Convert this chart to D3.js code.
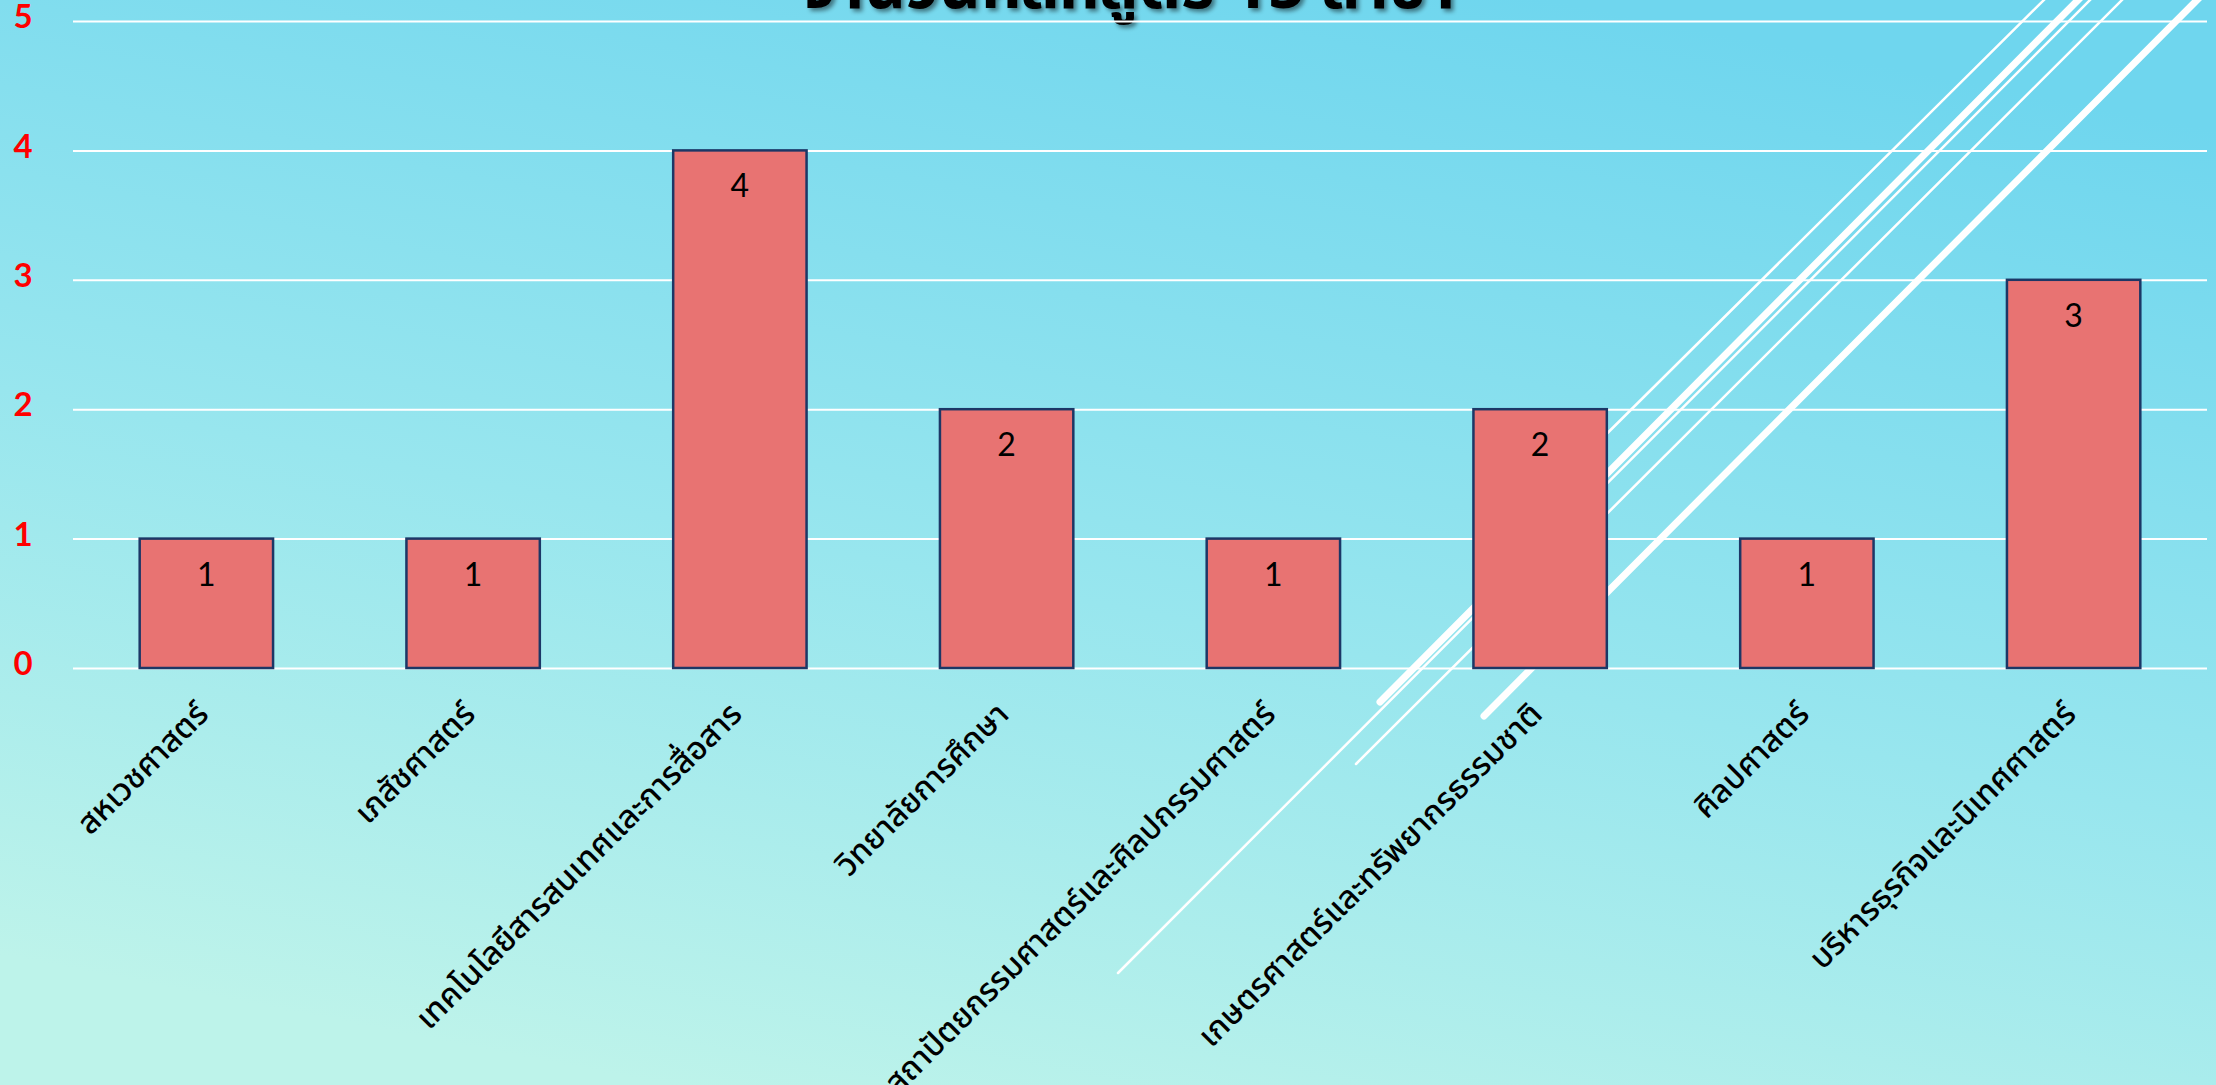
<!DOCTYPE html>
<html>
<head>
<meta charset="utf-8">
<script src="https://cdn.jsdelivr.net/npm/d3@7"></script>
<style>
  html, body { margin: 0; padding: 0; overflow: hidden; }
  .ytick text { font-family: "Lato", "DejaVu Sans", sans-serif; font-weight: 700; }
  .xlabel { font-family: "Noto Sans Thai", "Leelawadee UI", Tahoma, "DejaVu Sans", sans-serif; }
</style>
</head>
<body>
<div id="chart"></div>
<script>
// chart data
var categories = [
  "สหเวชศาสตร์",
  "เภสัชศาสตร์",
  "เทคโนโลยีสารสนเทศและการสื่อสาร",
  "วิทยาลัยการศึกษา",
  "สถาปัตยกรรมศาสตร์และศิลปกรรมศาสตร์",
  "เกษตรศาสตร์และทรัพยากรธรรมชาติ",
  "ศิลปศาสตร์",
  "บริหารธุรกิจและนิเทศศาสตร์"
];
var values = [1, 1, 4, 2, 1, 2, 1, 3];
var yTicks = [0, 1, 2, 3, 4, 5];
var title = "จำนวนหลักสูตร 15 สาขา";

// slide background decoration (white diagonal strokes)
var decoLines = [
  { x1: 1540, y1: 500, x2: 2054, y2: -10, w: 2.5 },
  { x1: 1380, y1: 702, x2: 2088, y2: -10, w: 7 },
  { x1: 1118, y1: 973, x2: 2100, y2: -10, w: 2.5 },
  { x1: 1356, y1: 764, x2: 2132, y2: -10, w: 2.5 },
  { x1: 1484, y1: 716, x2: 2207, y2: -10, w: 7 }
];

(function() {
  var width = 2216, height = 1085;
  var plotLeft = 73, plotRight = 2207, plotTop = 21, plotBottom = 668;

  var svg = d3.select("#chart").append("svg")
    .attr("width", width)
    .attr("height", height);

  // background gradient
  var defs = svg.append("defs");
  var grad = defs.append("linearGradient")
    .attr("id", "bg")
    .attr("x1", "70%").attr("y1", "0%")
    .attr("x2", "30%").attr("y2", "100%");
  grad.append("stop").attr("offset", "0%").attr("stop-color", "#6fd6ee");
  grad.append("stop").attr("offset", "55%").attr("stop-color", "#98e6ee");
  grad.append("stop").attr("offset", "100%").attr("stop-color", "#bdf3ea");

  var shadow = defs.append("filter").attr("id", "shadow")
    .attr("x", "-5%").attr("y", "-20%").attr("width", "110%").attr("height", "150%");
  shadow.append("feDropShadow")
    .attr("dx", 3).attr("dy", 3).attr("stdDeviation", 2)
    .attr("flood-color", "#000").attr("flood-opacity", 0.45);

  svg.append("rect")
    .attr("width", width).attr("height", height)
    .attr("fill", "url(#bg)");

  svg.append("g").attr("class", "deco")
    .selectAll("line")
    .data(decoLines)
    .enter().append("line")
    .attr("x1", function(d) { return d.x1; })
    .attr("y1", function(d) { return d.y1; })
    .attr("x2", function(d) { return d.x2; })
    .attr("y2", function(d) { return d.y2; })
    .attr("stroke", "#fff")
    .attr("stroke-width", function(d) { return d.w; })
    .attr("stroke-linecap", "round");

  // title, mostly cut off by the top edge
  svg.append("text")
    .attr("x", 800)
    .attr("y", 8)
    .attr("textLength", 655)
    .attr("lengthAdjust", "spacingAndGlyphs")
    .attr("filter", "url(#shadow)")
    .style("font-family", "'Noto Sans Thai', Tahoma, 'DejaVu Sans', sans-serif")
    .style("font-weight", 700)
    .style("font-size", "64px")
    .attr("fill", "#000")
    .text(title);

  // scales
  var x = d3.scaleBand()
    .domain(categories)
    .range([plotLeft, plotRight])
    .paddingInner(0.5)
    .paddingOuter(0.25);

  var y = d3.scaleLinear()
    .domain([0, 5])
    .range([plotBottom, plotTop]);

  // gridlines + red tick labels
  var yAxis = d3.axisLeft(y)
    .tickValues(yTicks)
    .tickSize(-(plotRight - plotLeft))
    .tickPadding(0)
    .tickFormat(d3.format("d"));

  var gy = svg.append("g")
    .attr("class", "ytick")
    .attr("transform", "translate(" + plotLeft + ",0)")
    .call(yAxis);
  gy.select(".domain").remove();
  gy.selectAll(".tick line")
    .attr("stroke", "#fff")
    .attr("stroke-width", 2);
  gy.selectAll(".tick text")
    .attr("x", 23 - plotLeft)
    .attr("dy", "0.2em")
    .attr("text-anchor", "middle")
    .attr("fill", "#ff0000")
    .style("font-size", "33px");

  // bars
  var bars = svg.append("g").attr("class", "bars")
    .selectAll("g")
    .data(categories)
    .enter().append("g");

  bars.append("rect")
    .attr("x", function(d) { return x(d); })
    .attr("y", function(d, i) { return y(values[i]); })
    .attr("width", x.bandwidth())
    .attr("height", function(d, i) { return y(0) - y(values[i]); })
    .attr("fill", "#e87372")
    .attr("stroke", "#1c3766")
    .attr("stroke-width", 2.5);

  bars.append("text")
    .attr("x", function(d) { return x(d) + x.bandwidth() / 2; })
    .attr("y", function(d, i) { return y(values[i]) + 47; })
    .attr("text-anchor", "middle")
    .style("font-family", "'Lato', 'DejaVu Sans', sans-serif")
    .style("font-size", "32px")
    .attr("fill", "#000")
    .text(function(d, i) { return values[i]; });

  // rotated category labels
  svg.append("g")
    .selectAll("text")
    .data(categories)
    .enter().append("text")
    .attr("class", "xlabel")
    .attr("transform", function(d) {
      return "translate(" + (x(d) + x.bandwidth() / 2 + 4) + ",716) rotate(-45)";
    })
    .attr("text-anchor", "end")
    .style("font-size", "32px")
    .style("font-weight", 500)
    .attr("fill", "#000")
    .text(function(d) { return d; });
})();
</script>
</body>
</html>
